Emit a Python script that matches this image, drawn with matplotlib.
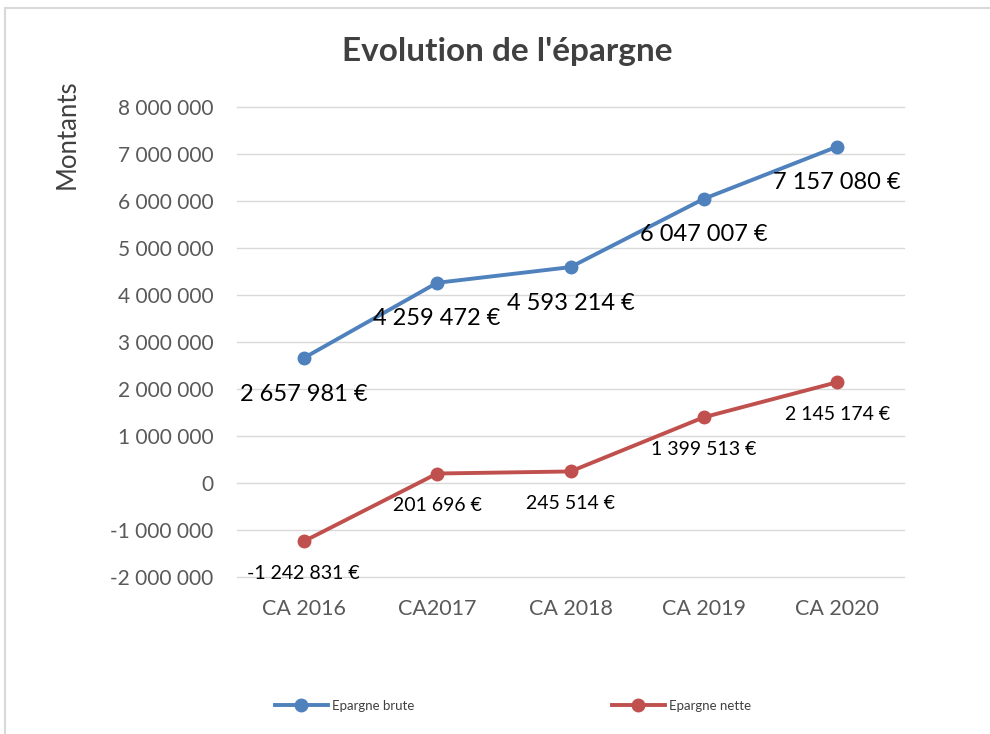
import matplotlib
matplotlib.use("Agg")
import matplotlib.pyplot as plt
from matplotlib.patches import Rectangle
from matplotlib.ticker import FuncFormatter

plt.rcParams['font.family'] = ['Lato', 'DejaVu Sans']

# data
annees = ["CA 2016", "CA2017", "CA 2018", "CA 2019", "CA 2020"]
epargne_brute = [2657981, 4259472, 4593214, 6047007, 7157080]
epargne_nette = [-1242831, 201696, 245514, 1399513, 2145174]

bleu = "#4f81bd"
rouge = "#c0504d"


def fmt_nb(v):
    return f"{v:,.0f}".replace(",", " ")


fig = plt.figure(figsize=(9.9, 7.34), dpi=100)

# cadre gris du graphique (coupe a droite et en bas)
fig.patches.append(Rectangle((5 / 990, -0.1), 1.2, 1 - 8 / 734 + 0.1,
                             transform=fig.transFigure, fill=False,
                             edgecolor="#d9d9d9", linewidth=1.5))

ax = fig.add_axes([237 / 990, 1 - 577 / 734, 667 / 990, 470 / 734])
x = list(range(len(annees)))

ax.plot(x, epargne_brute, color=bleu, lw=2.8, marker="o", ms=9,
        label="Epargne brute", zorder=3)
ax.plot(x, epargne_nette, color=rouge, lw=2.8, marker="o", ms=9,
        label="Epargne nette", zorder=3)

for xi, v in zip(x, epargne_brute):
    ax.annotate(fmt_nb(v) + " €", (xi, v), xytext=(0, -26),
                textcoords="offset points", ha="center", va="center",
                fontsize=17, color="#000000")
for xi, v in zip(x, epargne_nette):
    ax.annotate(fmt_nb(v) + " €", (xi, v), xytext=(0, -23),
                textcoords="offset points", ha="center", va="center",
                fontsize=14, color="#000000")

ax.set_xlim(-0.5, 4.5)
ax.set_ylim(-2000000, 8000000)
ax.set_yticks(range(-2000000, 8000001, 1000000))
ax.yaxis.set_major_formatter(FuncFormatter(lambda v, p: fmt_nb(v)))
ax.set_xticks(x)
ax.set_xticklabels(annees)
ax.tick_params(axis="both", length=0, labelcolor="#595959")
ax.tick_params(axis="y", pad=17, labelsize=15)
ax.tick_params(axis="x", pad=16, labelsize=15.5)
ax.grid(axis="y", color="#d9d9d9", lw=1)
ax.set_axisbelow(True)
for gl in ax.get_ygridlines():
    gl.set_clip_on(False)
for s in ax.spines.values():
    s.set_visible(False)

fig.text(507 / 990, 1 - 52 / 734, "Evolution de l'épargne", ha="center",
         va="center", fontsize=24, fontweight="bold", color="#404040")
fig.text(67 / 990, 1 - 134 / 734, "Montants", rotation=90, ha="center",
         va="center", fontsize=18.5, color="#404040")

fig.legend(loc="center", bbox_to_anchor=(513 / 990, 1 - 706 / 734), ncol=2,
           frameon=False, fontsize=9.5, columnspacing=15, handlelength=4,
           handletextpad=0.3, labelcolor="#404040")

fig.savefig("out.png", dpi=100, facecolor="white")
